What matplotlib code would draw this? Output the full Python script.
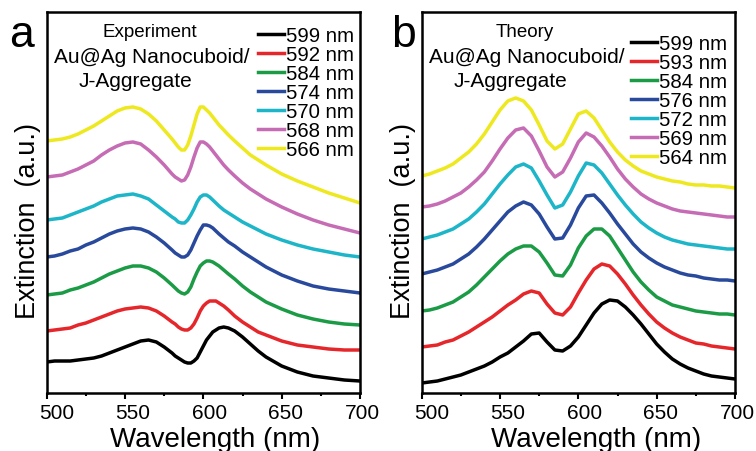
import matplotlib
matplotlib.use('Agg')
import matplotlib.pyplot as plt
import matplotlib.transforms as mtransforms
from matplotlib.ticker import MultipleLocator

plt.rcParams['font.family'] = ['Liberation Sans', 'Noto Sans CJK SC', 'DejaVu Sans']

# ---- panel a: experiment (stacked spectra, a.u.) ----
wl_exp = [500, 505, 510, 515, 520, 525, 530, 535, 540, 545, 550, 555, 560, 565, 570, 575, 580,
          582, 584, 586, 588, 590, 592, 594, 596, 598, 600, 602, 604, 606, 608, 610,
          613, 616, 620, 625, 630, 635, 640, 650, 660, 670, 680, 690, 700]
exp_599 = [0.31, 0.32, 0.32, 0.32, 0.33, 0.34, 0.35, 0.37, 0.40, 0.43, 0.46, 0.49, 0.52, 0.53, 0.51, 0.46, 0.40,
           0.37, 0.35, 0.33, 0.31, 0.30, 0.30, 0.32, 0.35, 0.41, 0.47, 0.53, 0.57, 0.61, 0.63, 0.65,
           0.66, 0.65, 0.62, 0.56, 0.49, 0.42, 0.36, 0.27, 0.21, 0.17, 0.15, 0.13, 0.12]
exp_592 = [0.62, 0.63, 0.64, 0.65, 0.68, 0.70, 0.73, 0.76, 0.79, 0.82, 0.84, 0.85, 0.86, 0.85, 0.82, 0.77, 0.71,
           0.69, 0.66, 0.64, 0.63, 0.63, 0.65, 0.69, 0.75, 0.82, 0.87, 0.90, 0.92, 0.92, 0.92, 0.90,
           0.87, 0.83, 0.77, 0.71, 0.66, 0.61, 0.58, 0.52, 0.48, 0.46, 0.44, 0.43, 0.43]
exp_584 = [0.98, 0.99, 1.00, 1.03, 1.05, 1.08, 1.11, 1.15, 1.19, 1.22, 1.25, 1.27, 1.27, 1.25, 1.21, 1.15, 1.08,
           1.05, 1.02, 1.00, 0.99, 1.01, 1.06, 1.14, 1.21, 1.27, 1.30, 1.32, 1.32, 1.31, 1.29, 1.27,
           1.23, 1.19, 1.14, 1.07, 1.01, 0.96, 0.91, 0.84, 0.78, 0.74, 0.71, 0.69, 0.68]
exp_574 = [1.36, 1.37, 1.39, 1.42, 1.44, 1.48, 1.51, 1.55, 1.59, 1.62, 1.64, 1.65, 1.64, 1.61, 1.56, 1.50, 1.43,
           1.40, 1.38, 1.36, 1.36, 1.38, 1.43, 1.50, 1.57, 1.63, 1.68, 1.68, 1.67, 1.65, 1.62, 1.59,
           1.55, 1.51, 1.47, 1.41, 1.36, 1.31, 1.26, 1.18, 1.12, 1.07, 1.04, 1.02, 1.00]
exp_570 = [1.73, 1.74, 1.75, 1.78, 1.81, 1.84, 1.87, 1.91, 1.94, 1.97, 1.98, 1.99, 1.97, 1.94, 1.88, 1.82, 1.76,
           1.74, 1.71, 1.70, 1.70, 1.73, 1.78, 1.84, 1.91, 1.96, 1.98, 1.98, 1.96, 1.93, 1.90, 1.87,
           1.83, 1.80, 1.76, 1.71, 1.67, 1.63, 1.59, 1.53, 1.48, 1.44, 1.41, 1.38, 1.36]
exp_568 = [2.16, 2.17, 2.18, 2.21, 2.24, 2.28, 2.32, 2.38, 2.43, 2.47, 2.50, 2.51, 2.49, 2.43, 2.36, 2.28, 2.19,
           2.16, 2.14, 2.12, 2.13, 2.18, 2.26, 2.36, 2.45, 2.51, 2.51, 2.49, 2.46, 2.42, 2.38, 2.34,
           2.28, 2.23, 2.17, 2.10, 2.04, 1.99, 1.94, 1.86, 1.79, 1.73, 1.68, 1.64, 1.60]
exp_566 = [2.52, 2.53, 2.54, 2.56, 2.59, 2.63, 2.67, 2.72, 2.77, 2.82, 2.85, 2.86, 2.84, 2.79, 2.72, 2.63, 2.54,
           2.50, 2.46, 2.43, 2.43, 2.48, 2.57, 2.68, 2.79, 2.86, 2.86, 2.83, 2.80, 2.76, 2.72, 2.68,
           2.63, 2.58, 2.52, 2.45, 2.38, 2.33, 2.28, 2.19, 2.12, 2.06, 2.00, 1.95, 1.90]
exp_labels = ['599 nm', '592 nm', '584 nm', '574 nm', '570 nm', '568 nm', '566 nm']

# ---- panel b: theory ----
wl_theo = [500, 505, 510, 515, 520, 525, 530, 535, 540, 545, 550, 555, 560, 565, 570, 575, 580,
           585, 590, 595, 600, 605, 610, 615, 620, 625, 630, 635, 640, 645, 650, 655, 660,
           665, 670, 675, 680, 685, 690, 695, 700]
theo_599 = [0.10, 0.11, 0.12, 0.14, 0.16, 0.18, 0.21, 0.24, 0.27, 0.31, 0.36, 0.40, 0.46, 0.52, 0.59, 0.60, 0.51,
            0.43, 0.42, 0.47, 0.56, 0.68, 0.80, 0.89, 0.93, 0.92, 0.86, 0.78, 0.69, 0.59, 0.49, 0.41, 0.34,
            0.29, 0.25, 0.22, 0.19, 0.17, 0.16, 0.15, 0.14]
theo_593 = [0.46, 0.47, 0.48, 0.51, 0.53, 0.57, 0.61, 0.66, 0.71, 0.76, 0.82, 0.88, 0.93, 0.99, 1.02, 1.00, 0.89,
            0.80, 0.78, 0.86, 1.00, 1.13, 1.24, 1.29, 1.27, 1.19, 1.09, 0.98, 0.88, 0.79, 0.71, 0.65, 0.60,
            0.56, 0.53, 0.50, 0.49, 0.47, 0.46, 0.45, 0.44]
theo_584 = [0.82, 0.83, 0.85, 0.88, 0.91, 0.96, 1.01, 1.08, 1.16, 1.24, 1.32, 1.39, 1.44, 1.47, 1.47, 1.41, 1.30,
            1.18, 1.17, 1.28, 1.45, 1.57, 1.64, 1.64, 1.57, 1.45, 1.33, 1.21, 1.11, 1.03, 0.96, 0.92, 0.88,
            0.86, 0.84, 0.82, 0.81, 0.80, 0.79, 0.79, 0.78]
theo_576 = [1.19, 1.21, 1.23, 1.26, 1.29, 1.34, 1.39, 1.46, 1.54, 1.63, 1.72, 1.81, 1.87, 1.91, 1.88, 1.79, 1.66,
            1.54, 1.55, 1.68, 1.85, 1.97, 1.98, 1.90, 1.80, 1.69, 1.59, 1.49, 1.41, 1.35, 1.30, 1.26, 1.23,
            1.20, 1.18, 1.17, 1.15, 1.14, 1.13, 1.13, 1.12]
theo_572 = [1.54, 1.56, 1.58, 1.61, 1.64, 1.69, 1.74, 1.81, 1.89, 1.99, 2.09, 2.18, 2.26, 2.29, 2.25, 2.12, 1.98,
            1.85, 1.88, 2.01, 2.17, 2.30, 2.28, 2.20, 2.09, 1.98, 1.88, 1.79, 1.71, 1.65, 1.60, 1.56, 1.53,
            1.51, 1.49, 1.48, 1.47, 1.46, 1.45, 1.44, 1.44]
theo_569 = [1.86, 1.87, 1.89, 1.92, 1.96, 2.00, 2.06, 2.13, 2.21, 2.32, 2.44, 2.55, 2.63, 2.65, 2.57, 2.42, 2.26,
            2.16, 2.21, 2.35, 2.51, 2.60, 2.56, 2.47, 2.36, 2.24, 2.14, 2.06, 1.99, 1.94, 1.90, 1.87, 1.84,
            1.82, 1.81, 1.80, 1.79, 1.78, 1.77, 1.76, 1.76]
theo_564 = [2.17, 2.19, 2.22, 2.25, 2.29, 2.35, 2.41, 2.49, 2.59, 2.71, 2.83, 2.92, 2.95, 2.92, 2.83, 2.68, 2.52,
            2.44, 2.49, 2.64, 2.79, 2.82, 2.75, 2.63, 2.51, 2.41, 2.33, 2.27, 2.22, 2.19, 2.16, 2.14, 2.12,
            2.11, 2.09, 2.08, 2.08, 2.07, 2.07, 2.06, 2.05]
theo_labels = ['599 nm', '593 nm', '584 nm', '576 nm', '572 nm', '569 nm', '564 nm']

colors = ['#000000', '#e5262b', '#1b9b45', '#28499c', '#1db5c8', '#c56cb5', '#eee81f']
xticks = [500, 550, 600, 650, 700]
# the printed tick numbers drift right of their ticks (px)
label_shift = [10, 7.5, 6, 4, 2.5]


def draw_panel(ax, wl, curves, labels, title, letter, letter_x, xlab_x, leg_xy):
    fig = ax.figure
    for y, c, lab in zip(curves, colors, labels):
        ax.plot(wl, y, color=c, lw=2.5, label=lab, solid_joinstyle='round')
    ax.set_xlim(500, 700)
    ax.set_ylim(0, 3.81)
    ax.set_xticks(xticks)
    ax.xaxis.set_minor_locator(MultipleLocator(25))
    ax.tick_params(axis='x', which='major', direction='out', length=4.5, width=1.5,
                   labelbottom=False)
    ax.tick_params(axis='x', which='minor', direction='out', length=2.5, width=1.5)
    ax.set_yticks([])
    for s in ax.spines.values():
        s.set_linewidth(1.8)
    # tick numbers, drawn as text so they can sit slightly off their ticks
    blend = mtransforms.blended_transform_factory(ax.transData, ax.transAxes)
    for v, dx in zip(xticks, label_shift):
        tr = blend + mtransforms.ScaledTranslation(dx / 100, 0, fig.dpi_scale_trans)
        ax.text(v, -0.026, str(v), transform=tr, ha='center', va='top', fontsize=15)
    # titles inside the axes
    ax.text(0.33, 0.95, title, transform=ax.transAxes, ha='center', va='center', fontsize=13.5)
    ax.text(0.335, 0.882, 'Au@Ag Nanocuboid/', transform=ax.transAxes, ha='center', va='center',
            fontsize=15)
    ax.text(0.282, 0.819, 'J-Aggregate', transform=ax.transAxes, ha='center', va='center',
            fontsize=15)
    ax.text(xlab_x, -0.122, 'Wavelength (nm)', transform=ax.transAxes, ha='center', va='center',
            fontsize=20)
    ax.text(-0.06, 0.455, 'Extinction  (a.u.)', transform=ax.transAxes, ha='center', va='center',
            rotation=90, fontsize=19.5)
    fig.text(letter_x / 756, 1 - 47 / 452, letter, ha='left', va='baseline', fontsize=32)
    ax.legend(loc='upper right', bbox_to_anchor=leg_xy, frameon=False, fontsize=14.7,
              handlelength=1.3, handletextpad=0.08, labelspacing=0.0, borderpad=0,
              borderaxespad=0)


fig = plt.figure(figsize=(7.56, 4.52), dpi=100)
ax1 = fig.add_axes([0.0618, 0.1283, 0.4144, 0.843])
ax2 = fig.add_axes([0.5578, 0.1283, 0.4144, 0.843])

draw_panel(ax1, wl_exp, [exp_599, exp_592, exp_584, exp_574, exp_570, exp_568, exp_566],
           exp_labels, 'Experiment', 'a', 9, 0.537, (0.981, 0.964))
draw_panel(ax2, wl_theo, [theo_599, theo_593, theo_584, theo_576, theo_572, theo_569, theo_564],
           theo_labels, 'Theory', 'b', 391, 0.556, (0.975, 0.942))

fig.savefig('out.png', dpi=100)
